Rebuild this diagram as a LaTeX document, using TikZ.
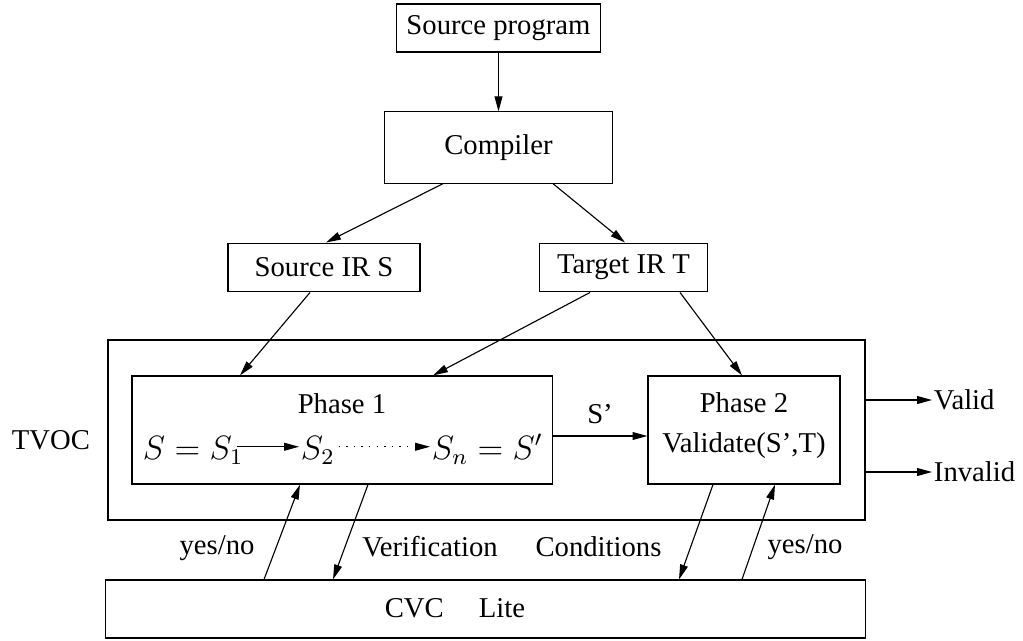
\documentclass[tikz,border=0pt]{standalone}
\usepackage{fontspec}
\setmainfont{Liberation Serif}
\usetikzlibrary{arrows.meta,calc}

\begin{document}
\begin{tikzpicture}[x=0.0125cm,y=-0.0125cm,
    every node/.style={font=\fontsize{10.2}{12}\selectfont},
    box/.style={draw,inner sep=0pt},
    arr/.style={-{Triangle[length=5.3pt,width=2.8pt]}},
    mathlbl/.style={inner sep=0.5pt,text height=2.2ex,text depth=0.3ex,font=\fontsize{11.8}{14}\selectfont}]
  \useasboundingbox (0,0) rectangle (1023,640);
  % top chain
  \node[box,minimum width=2.54cm,minimum height=0.6cm] (src) at (498.5,28) {Source program};
  \node[box,minimum width=2.84cm,minimum height=0.89cm] (comp) at (498.5,147.5) {Compiler};
  \node[box,minimum width=2.4cm,minimum height=0.61cm] (srcir) at (324,267.5) {Source IR S};
  \node[box,minimum width=2.09cm,minimum height=0.61cm] (tgtir) at (623.5,267.5) {Target IR T};
  % TVOC and its two phases
  \node[box,minimum width=9.46cm,minimum height=2.25cm] (tvoc) at (486.5,430) {};
  \node at (51,440) (tvoclbl) {TVOC};
  \node[box,minimum width=5.25cm,minimum height=1.35cm] (ph1) at (342,430) {};
  \node[box,minimum width=2.4cm,minimum height=1.35cm] (ph2) at (744,430) {};
  \node (ph1lbl) at (342,404) {Phase 1};
  \node[mathlbl,anchor=base west] (s1) at (141,459) {$S=S_1$};
  \node[mathlbl,anchor=base west] (s2) at (299,459) {$S_2$};
  \node[mathlbl,anchor=base west] (sn) at (430,459) {$S_n=S'$};
  \node (ph2lbl) at (744,403) {Phase 2};
  \node (valid2) at (744,446) {Validate(S',T)};
  % CVC Lite
  \node[box,minimum width=9.49cm,minimum height=0.725cm] (cvc) at (485.5,609) {};
  \node (cvclbl) at (455,608) {CVC\hspace{12.5pt}Lite};
  % outputs
  \node[right,inner sep=0.5pt] (valid) at (932,400) {Valid};
  \node[right,inner sep=0.5pt] (invalid) at (932,472) {Invalid};
  % connectors
  \draw[arr] (src) -- (comp);
  \draw[arr] ($(comp.south)+(-55.5,0)$) -- ($(srcir.north)+(2,0)$);
  \draw[arr] ($(comp.south)+(54.5,0)$) -- ($(tgtir.north)+(1.5,0)$);
  \draw[arr] ($(srcir.south)+(-14,0)$) -- ($(ph1.north)+(-102,0)$);
  \draw[arr] ($(tgtir.south)+(-33.5,0)$) -- ($(ph1.north)+(91,0)$);
  \draw[arr] ($(tgtir.south)+(56.5,0)$) -- ($(ph2.north)+(-2,0)$);
  \draw[arr] ($(s1.east)+(-8,0)$) -- (s2.west);
  \draw[arr,dash pattern=on 0.5pt off 2.2pt] ($(s2.east)+(2,0)$) -- (sn.west);
  \draw[arr] ($(ph1.east)+(0,6)$) -- ($(ph2.west)+(0,6)$);
  \node (sprime) at (600,414) {S'};
  \draw[arr] ($(tvoc.east)+(0,-30)$) -- (valid.west);
  \draw[arr] ($(tvoc.east)+(0,42)$) -- (invalid.west);
  \draw[arr] ($(cvc.north)+(-221.5,0)$) -- ($(ph1.south)+(-42,0)$);
  \draw[arr] ($(ph1.south)+(26,0)$) -- ($(cvc.north)+(-152.5,0)$);
  \draw[arr] ($(ph2.south)+(-31,0)$) -- ($(cvc.north)+(193.5,0)$);
  \draw[arr] ($(cvc.north)+(256.5,0)$) -- ($(ph2.south)+(31,0)$);
  % labels between TVOC and CVC Lite
  \node (yn1) at (217,548) {yes/no};
  \node (verif) at (430,547) {Verification};
  \node (cond) at (598.5,547) {Conditions};
  \node (yn2) at (805,547) {yes/no};
\end{tikzpicture}
\end{document}
